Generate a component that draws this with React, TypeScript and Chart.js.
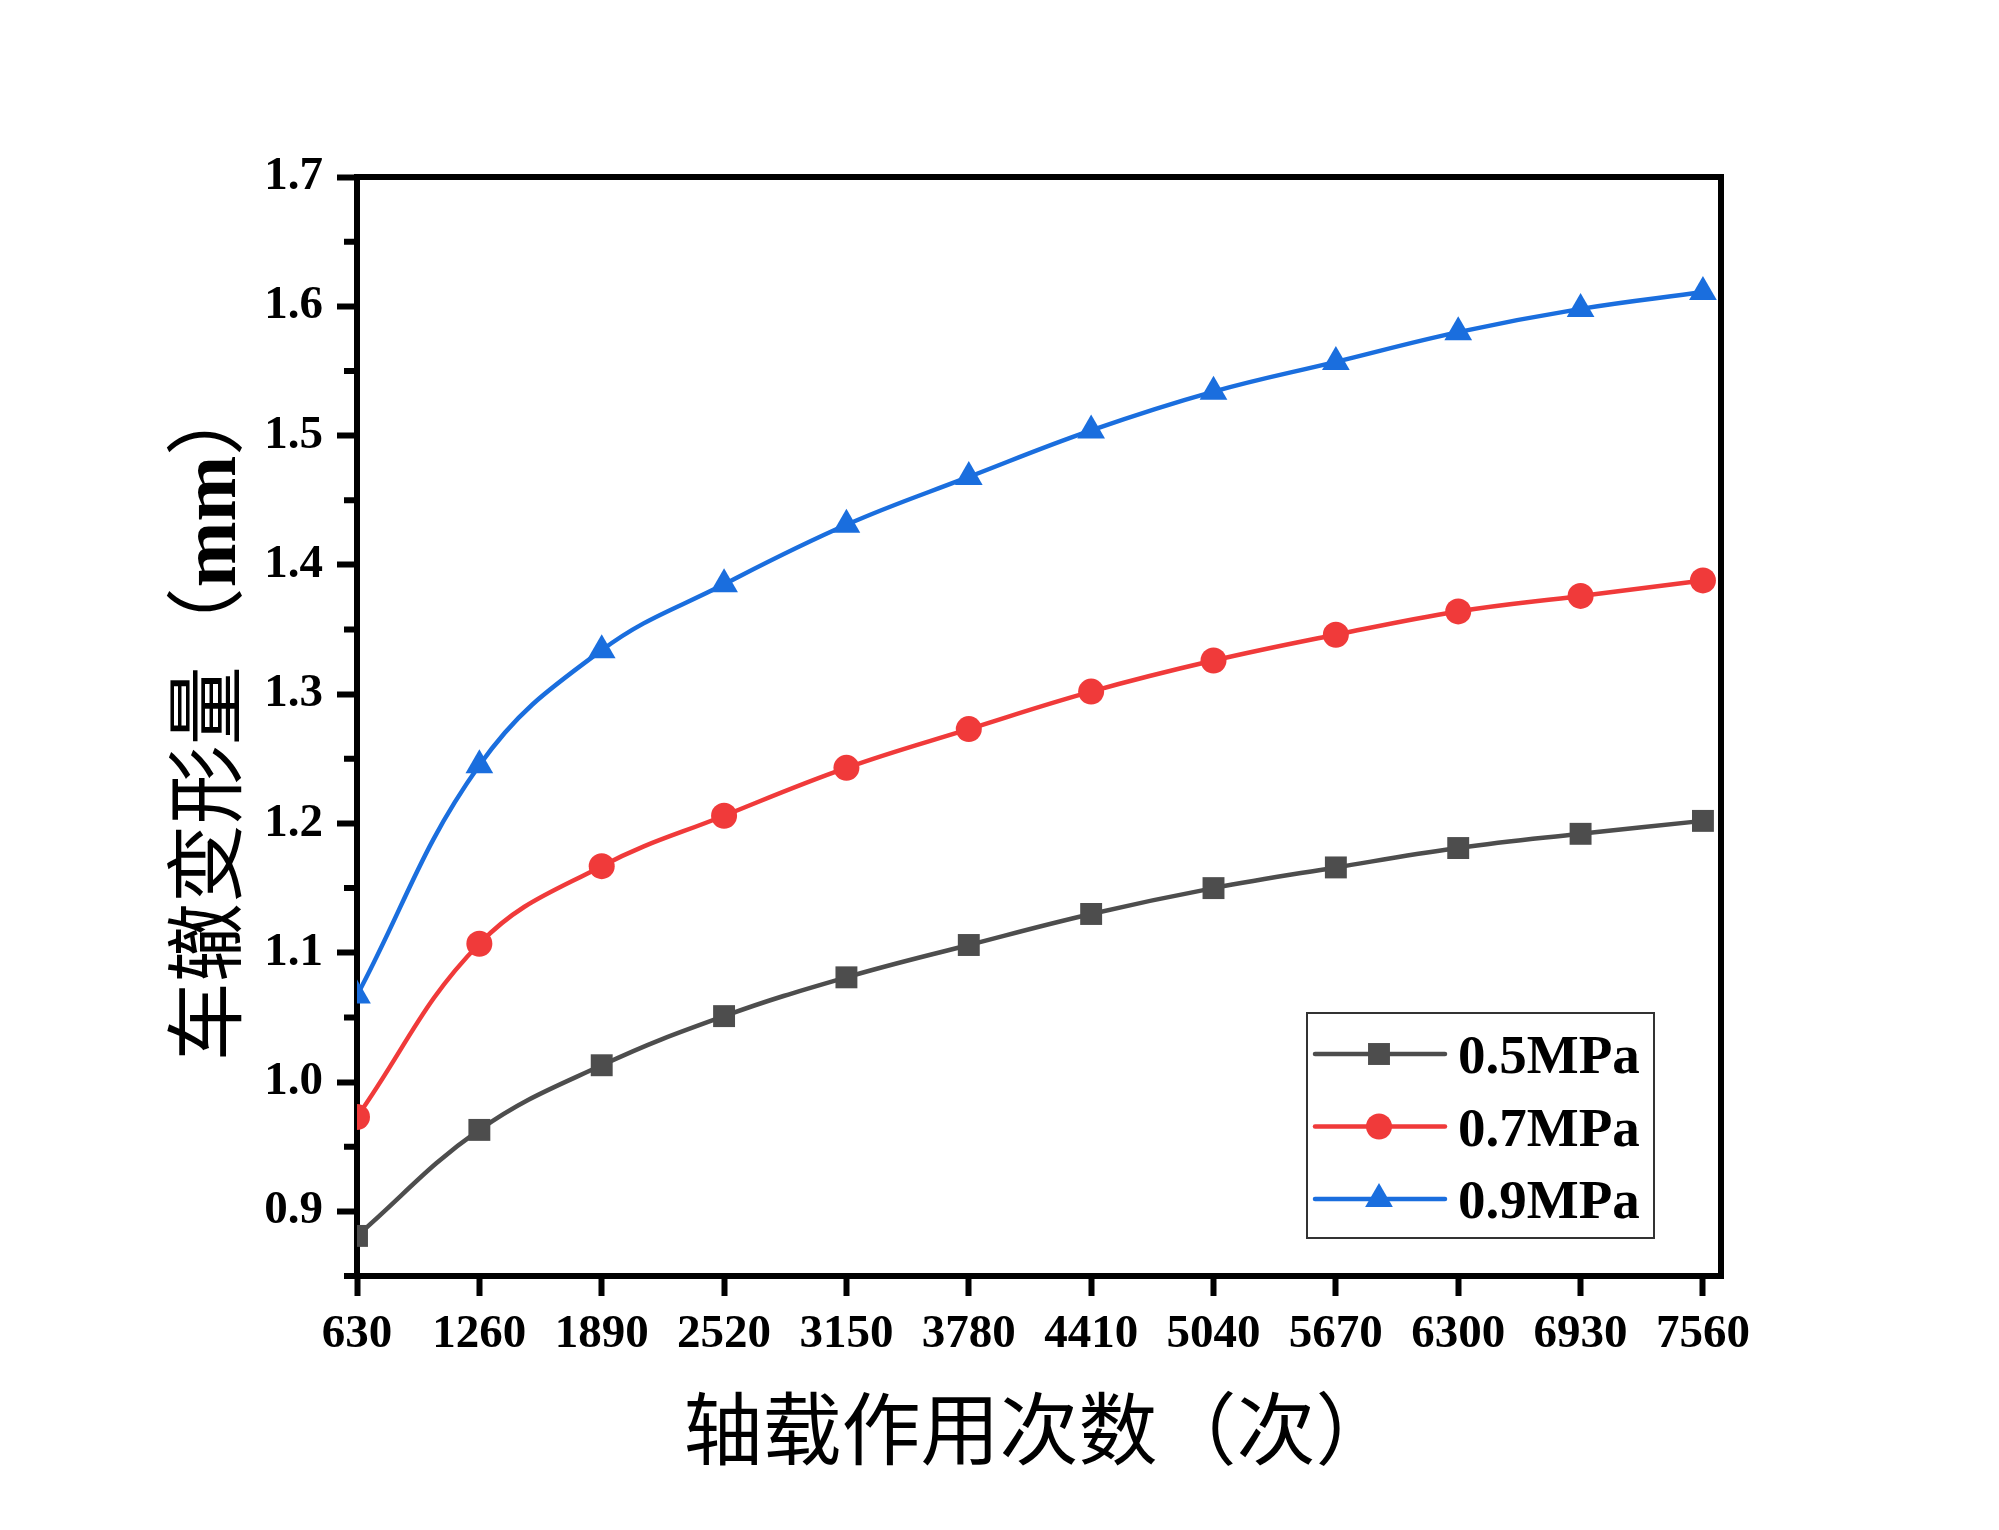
import React, { useEffect, useRef } from 'react';
import { Chart, registerables } from 'chart.js';

Chart.register(...registerables);

// ---- data ----
const cycles = [630, 1260, 1890, 2520, 3150, 3780, 4410, 5040, 5670, 6300, 6930, 7560];
const series05 = [0.881, 0.963, 1.013, 1.051, 1.081, 1.106, 1.130, 1.150, 1.166, 1.181, 1.192, 1.202];
const series07 = [0.973, 1.107, 1.167, 1.206, 1.243, 1.273, 1.302, 1.326, 1.346, 1.364, 1.376, 1.388];
const series09 = [1.067, 1.245, 1.334, 1.385, 1.431, 1.468, 1.504, 1.534, 1.557, 1.580, 1.598, 1.611];
const seriesLabels = ['0.5MPa', '0.7MPa', '0.9MPa'];
const xTickValues = [630, 1260, 1890, 2520, 3150, 3780, 4410, 5040, 5670, 6300, 6930, 7560];
const yMajorTicks = [0.9, 1.0, 1.1, 1.2, 1.3, 1.4, 1.5, 1.6, 1.7];
const yMinorTicks = [0.85, 0.95, 1.05, 1.15, 1.25, 1.35, 1.45, 1.55, 1.65];
const xAxisTitle = '轴载作用次数（次）';
const yAxisTitleParts = ['车辙变形量（', 'mm', '）'];

const COLORS = ['#4d4d4d', '#f03a3a', '#1a6ede'];
const STYLES = ['rect', 'circle', 'triangle'];
const RADII = [15.5, 13, 16];

const CJK = '"Noto Sans CJK SC", "Noto Sans CJK JP", sans-serif';
const SERIF = '"Liberation Serif", "Times New Roman", serif';

function drawMarker(ctx: CanvasRenderingContext2D, style: string, x: number, y: number, r: number, color: string) {
  ctx.save();
  ctx.fillStyle = color;
  ctx.beginPath();
  if (style === 'rect') {
    const s = Math.SQRT1_2 * r;
    ctx.rect(x - s, y - s, 2 * s, 2 * s);
  } else if (style === 'circle') {
    ctx.arc(x, y, r, 0, Math.PI * 2);
  } else {
    let rad = 0;
    ctx.moveTo(x + Math.sin(rad) * r, y - Math.cos(rad) * r);
    rad += (2 * Math.PI) / 3;
    ctx.lineTo(x + Math.sin(rad) * r, y - Math.cos(rad) * r);
    rad += (2 * Math.PI) / 3;
    ctx.lineTo(x + Math.sin(rad) * r, y - Math.cos(rad) * r);
    ctx.closePath();
  }
  ctx.fill();
  ctx.restore();
}

const decorPlugin = {
  id: 'decor',
  afterDraw(chart: any) {
    const { ctx, chartArea, scales } = chart;
    const { left, right, top, bottom } = chartArea;
    ctx.save();
    // frame top & right
    ctx.strokeStyle = '#000';
    ctx.lineWidth = 6;
    ctx.lineCap = 'butt';
    ctx.beginPath();
    ctx.moveTo(left - 3, top);
    ctx.lineTo(right + 3, top);
    ctx.moveTo(right, top);
    ctx.lineTo(right, bottom + 3);
    ctx.stroke();
    // minor y ticks
    ctx.lineWidth = 6;
    ctx.beginPath();
    for (const v of yMinorTicks) {
      const py = scales.y.getPixelForValue(v);
      ctx.moveTo(left - 13, py);
      ctx.lineTo(left, py);
    }
    ctx.stroke();

    // y axis title (mixed fonts)
    const fonts = [`79px ${CJK}`, `bold 79px ${SERIF}`, `79px ${CJK}`];
    const widths = yAxisTitleParts.map((t, i) => {
      ctx.font = fonts[i];
      return ctx.measureText(t).width;
    });
    const total = widths.reduce((a, b) => a + b, 0);
    ctx.translate(207, 719);
    ctx.rotate(-Math.PI / 2);
    ctx.fillStyle = '#000';
    ctx.textBaseline = 'alphabetic';
    ctx.textAlign = 'left';
    let cx = -total / 2;
    yAxisTitleParts.forEach((t, i) => {
      ctx.font = fonts[i];
      ctx.fillText(t, cx, 28);
      cx += widths[i];
    });
    ctx.restore();

    // legend
    ctx.save();
    const bx = right - 414;
    const by = bottom - 263;
    const bw = 347;
    const bh = 225;
    ctx.fillStyle = '#fff';
    ctx.fillRect(bx, by, bw, bh);
    ctx.strokeStyle = '#333';
    ctx.lineWidth = 2;
    ctx.strokeRect(bx, by, bw, bh);
    chart.data.datasets.forEach((ds: any, i: number) => {
      const ry = by + 41 + i * 72.5;
      ctx.strokeStyle = COLORS[i];
      ctx.lineWidth = 4.5;
      ctx.lineCap = 'round';
      ctx.beginPath();
      ctx.moveTo(bx + 8, ry);
      ctx.lineTo(bx + 138, ry);
      ctx.stroke();
      drawMarker(ctx, STYLES[i], bx + 72, ry, RADII[i], COLORS[i]);
      ctx.fillStyle = '#000';
      ctx.font = `bold 55px ${SERIF}`;
      ctx.textAlign = 'left';
      ctx.textBaseline = 'alphabetic';
      ctx.fillText(ds.label, bx + 151, ry + 19);
    });
    ctx.restore();
  },
};

export default function App() {
  const canvasRef = useRef<HTMLCanvasElement | null>(null);

  useEffect(() => {
    if (!canvasRef.current) return;
    const allSeries = [series05, series07, series09];
    const chart = new Chart(canvasRef.current, {
      type: 'line',
      data: {
        datasets: allSeries.map((s, i) => ({
          label: seriesLabels[i],
          data: cycles.map((c, j) => ({ x: c, y: s[j] })),
          borderColor: COLORS[i],
          backgroundColor: COLORS[i],
          borderWidth: 4.5,
          tension: 0.4,
          pointStyle: STYLES[i] as any,
          pointRadius: RADII[i],
          pointBackgroundColor: COLORS[i],
          pointBorderColor: COLORS[i],
          pointBorderWidth: 0,
          clip: 0,
          fill: false,
        })),
      },
      options: {
        animation: false,
        responsive: true,
        maintainAspectRatio: false,
        events: [],
        layout: { padding: { top: 177, right: 278, bottom: 0, left: 0 } },
        plugins: {
          legend: { display: false },
          tooltip: { enabled: false },
          title: { display: false },
        },
        scales: {
          x: {
            type: 'linear',
            min: 630,
            max: 7653,
            z: 1,
            afterFit: (scale: any) => {
              scale.height = 254;
            },
            afterBuildTicks: (scale: any) => {
              scale.ticks = xTickValues.map((v) => ({ value: v }));
            },
            border: { display: true, color: '#000', width: 6 },
            grid: {
              display: true,
              drawOnChartArea: false,
              drawTicks: true,
              tickLength: 20,
              tickWidth: 6,
              tickColor: '#000',
            },
            ticks: {
              autoSkip: false,
              maxRotation: 0,
              padding: 11,
              color: '#000',
              font: { family: SERIF, size: 47, weight: 'bold' },
              callback: (v: any) => String(v),
            },
            title: {
              display: true,
              text: xAxisTitle,
              color: '#000',
              font: { family: CJK, size: 79, weight: 'normal' },
              padding: { top: 0, bottom: 54 },
            },
          },
          y: {
            type: 'linear',
            min: 0.85,
            max: 1.7,
            z: 1,
            afterFit: (scale: any) => {
              scale.width = 357;
            },
            afterBuildTicks: (scale: any) => {
              scale.ticks = yMajorTicks.map((v) => ({ value: v }));
            },
            border: { display: true, color: '#000', width: 6 },
            grid: {
              display: true,
              drawOnChartArea: false,
              drawTicks: true,
              tickLength: 20,
              tickWidth: 6,
              tickColor: '#000',
            },
            ticks: {
              autoSkip: false,
              padding: 14,
              color: '#000',
              font: { family: SERIF, size: 47, weight: 'bold' },
              callback: (v: any) => Number(v).toFixed(1),
            },
            title: { display: false },
          },
        },
      },
      plugins: [decorPlugin],
    });
    return () => chart.destroy();
  }, []);

  return (
    <div style={{ position: 'fixed', left: 0, top: 0, width: 1999, height: 1530, background: '#fff' }}>
      <canvas ref={canvasRef} />
    </div>
  );
}
